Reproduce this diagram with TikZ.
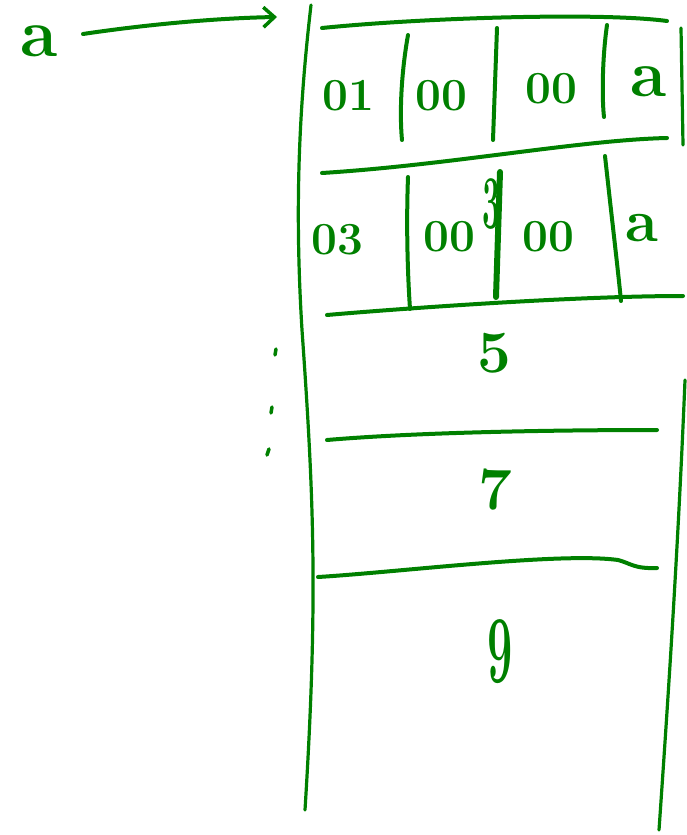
\documentclass[tikz,border=0pt]{standalone}
\usetikzlibrary{arrows.meta}
\definecolor{ink}{RGB}{0,128,0}
\begin{document}
\begin{tikzpicture}[x=1pt,y=-1pt,
  pen/.style={draw=ink,line width=4pt,line cap=round,line join=round},
  thin pen/.style={draw=ink,line width=3.2pt,line cap=round},
  celltext/.style={text=ink,font=\fontsize{46}{48}\selectfont\bfseries,inner sep=0pt},
  bigtext/.style={text=ink,font=\fontsize{60}{60}\selectfont\bfseries,inner sep=0pt},
  tick/.style={draw=ink,line width=3.5pt,line cap=round}]
\useasboundingbox (0,0) rectangle (686,835);
% pointer label and arrow
\node[text=ink,font=\fontsize{68}{68}\selectfont\bfseries,inner sep=0pt,anchor=base] (a) at (39,56) {a};
\coordinate (tgt) at (277,17);
\draw[pen,-{Straight Barb[length=11pt,width=20pt,line width=3.5pt]}] (83,34) coordinate (astart) .. controls (150,24) and (220,18) .. (tgt);
% outer vertical lines
\draw[thin pen] (311,5) .. controls (300,100) and (294,200) .. (302,330) .. controls (314,500) and (318,600) .. (305,810);
\draw[thin pen] (681,28) -- (683,145);
\draw[thin pen] (685,380) .. controls (678,550) and (668,700) .. (659,830);
% horizontal lines
\draw[pen] (322,28) .. controls (420,18) and (600,12) .. (667,21);
\draw[pen] (322,173) .. controls (450,165) and (580,140) .. (667,138);
\draw[pen] (327,315) .. controls (360,312) and (560,296) .. (683,296);
\draw[pen] (327,440) .. controls (420,432) and (560,430) .. (657,430);
\draw[pen] (318,577) .. controls (400,572) and (560,552) .. (618,560) .. controls (630,563) and (634,569) .. (657,568);
% row 1 dividers
\draw[pen] (408,35) .. controls (400,80) and (400,120) .. (402,140);
\draw[pen] (497,28) -- (493,140);
\draw[pen] (607,25) .. controls (602,60) and (602,100) .. (604,117);
% row 2 dividers
\draw[pen] (408,177) .. controls (406,230) and (408,280) .. (410,309);
\draw[draw=ink,line width=6pt,line cap=round] (500,172) -- (496,297);
\draw[pen] (605,156) .. controls (612,220) and (618,270) .. (621,301);
% row 1 texts
\node[celltext] (r1c1) at (348,96) {01};
\node[celltext] (r1c2) at (441,96) {00};
\node[celltext] (r1c3) at (551,89) {00};
\node[celltext,font=\fontsize{66}{66}\selectfont\bfseries] (r1c4) at (649,82) {a};
% row 2 texts
\node[celltext] (r2c1) at (337,240) {03};
\node[celltext] (r2c2) at (449,237) {00};
\node[celltext,font=\fontsize{40}{40}\selectfont\bfseries] (r2fix) at (492,204) {\scalebox{0.8}[1.9]{3}};
\node[celltext] (r2c3) at (548,237) {00};
\node[celltext,font=\fontsize{60}{60}\selectfont\bfseries] (r2c4) at (642,228) {a};
% further elements
\node[bigtext] (five) at (494,353) {5};
\node[bigtext] (seven) at (495,490) {7};
\node[bigtext] (nine) at (500,652) {\scalebox{0.75}[1.6]{9}};
% vertical dots
\draw[tick] (276,349) -- (275,355);
\draw[tick] (272,407) -- (271,413);
\draw[tick] (269,449) -- (267,455);
\end{tikzpicture}
\end{document}
